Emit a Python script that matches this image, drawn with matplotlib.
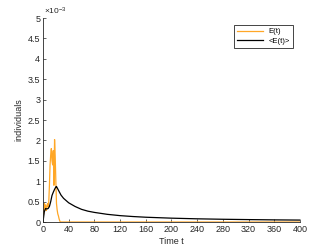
import numpy as np
import matplotlib.pyplot as plt
from matplotlib.ticker import FuncFormatter

# E(t) (units of 1e-3)
t_e = [0, 1, 2, 3, 4, 5, 6, 7, 8, 9, 10, 11, 12, 13, 14, 15, 16, 17,
       18, 19, 20, 21, 22, 23, 24, 25, 26, 27, 400]
e_vals = [0.1, 0.2, 0.45, 0.3, 0.42, 0.28, 0.35, 0.45, 0.38, 0.5, 0.9, 1.4,
          1.65, 1.8, 1.5, 1.4, 1.75, 0.9, 2.02, 1.6, 1.0, 0.45, 0.3, 0.2,
          0.15, 0.08, 0.03, 0.0, 0.0]

# <E(t)> running average (units of 1e-3)
t_avg = [0, 2, 4, 6, 8, 10, 12, 14, 16, 18, 20, 21, 24, 28, 32, 40, 50, 60,
         70, 80, 100, 120, 140, 160, 200, 240, 280, 320, 360, 400]
avg_vals = [0.0, 0.25, 0.33, 0.32, 0.33, 0.38, 0.5, 0.65, 0.73, 0.8, 0.86,
            0.87, 0.78, 0.66, 0.58, 0.47, 0.38, 0.31, 0.265, 0.235, 0.188,
            0.156, 0.134, 0.117, 0.094, 0.078, 0.067, 0.059, 0.052, 0.047]

x_ticks = list(range(0, 401, 40))
y_ticks = [0, 0.5, 1, 1.5, 2, 2.5, 3, 3.5, 4, 4.5, 5]

plt.rcParams['font.family'] = ['Liberation Sans', 'DejaVu Sans']
plt.rcParams['font.size'] = 6.5
plt.rcParams['mathtext.fontset'] = 'custom'
plt.rcParams['mathtext.rm'] = 'Liberation Sans'

fig = plt.figure(figsize=(3.32, 2.49), dpi=100)
ax = fig.add_axes([43 / 332, 1 - 222 / 249, 257 / 332, 204 / 249])

ax.plot(t_e, np.array(e_vals) * 1e-3, color='#FFA726', lw=0.9, label='E(t)')
ax.plot(t_avg, np.array(avg_vals) * 1e-3, color='black', lw=0.9, label='<E(t)>')

ax.set_xlim(0, 400)
ax.set_ylim(0, 5e-3)
ax.set_xticks(x_ticks)
ax.set_yticks([v * 1e-3 for v in y_ticks])
ax.yaxis.set_major_formatter(FuncFormatter(lambda v, p: '%g' % round(v * 1e3, 3)))
ax.text(0.005, 1.005, r'$\times\mathregular{10^{-3}}$', transform=ax.transAxes,
        fontsize=6, color='#262626', ha='left', va='bottom')

for side in ['top', 'right']:
    ax.spines[side].set_visible(False)
for side in ['left', 'bottom']:
    ax.spines[side].set_color('#262626')
    ax.spines[side].set_linewidth(0.6)
ax.tick_params(direction='in', length=2.5, width=0.5, colors='#262626', pad=2)

ax.set_xlabel('Time t', labelpad=2.5, color='#262626')
ax.set_ylabel('individuals', labelpad=3, color='#262626')

leg = ax.legend(loc='upper right', bbox_to_anchor=(293 / 332, 1 - 25 / 249),
                bbox_transform=fig.transFigure, fancybox=False, framealpha=1,
                edgecolor='#262626', handlelength=3.3, fontsize=5.5,
                borderpad=0.4, labelspacing=0.3, borderaxespad=0)
leg.get_frame().set_linewidth(0.6)

fig.savefig('out.png', dpi=100)
